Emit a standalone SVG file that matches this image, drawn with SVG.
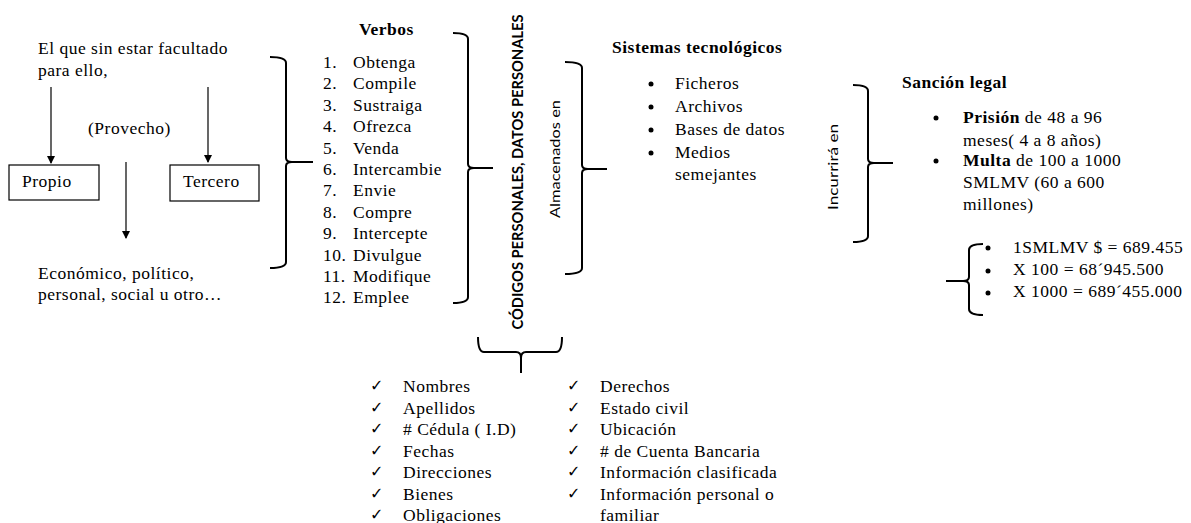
<svg xmlns="http://www.w3.org/2000/svg" width="1191" height="523" viewBox="0 0 1191 523">
<defs>
<marker id="ah" markerWidth="8" markerHeight="8" refX="7" refY="4" orient="auto" markerUnits="userSpaceOnUse"><path d="M0,0 L8,4 L0,8 Z" fill="#000"/></marker>
<style>
.t{font-family:"Liberation Serif","Times New Roman",serif;font-size:17.5px;letter-spacing:0.5px;fill:#000}
.b{font-weight:bold}
.s{font-family:"Lato","Liberation Sans",sans-serif;fill:#000}
.br{fill:none;stroke:#000;stroke-width:2}
.ar{stroke:#000;stroke-width:1.2;fill:none}
.bx{fill:#fff;stroke:#000;stroke-width:1.2}
.ck{font-family:"DejaVu Sans",sans-serif;font-size:16px;font-weight:bold;fill:#000}
</style>
</defs>
<rect width="1191" height="523" fill="#fff"/>
<g id="connectors">
<line class="ar" x1="51" y1="87" x2="51" y2="163" marker-end="url(#ah)"/>
<line class="ar" x1="208" y1="87" x2="208" y2="162" marker-end="url(#ah)"/>
<line class="ar" x1="126" y1="162" x2="126" y2="238" marker-end="url(#ah)"/>
<path class="br" d="M270,57 Q286,57 286,63 V158 Q286,162 292,162 H313 M292,162 Q286,162 286,166 V262 Q286,268 270,268"/>
<path class="br" d="M453,33 Q468,33 468,39 V164 Q468,168 474,168 H493 M474,168 Q468,168 468,172 V297 Q468,303 453,303"/>
<path class="br" d="M565,62 Q582,62 582,68 V165 Q582,169 588,169 H607 M588,169 Q582,169 582,173 V268 Q582,274 565,274"/>
<path class="br" d="M853,85 Q868,85 868,91 V159 Q868,163 874,163 H893 M874,163 Q868,163 868,167 V236 Q868,242 853,242"/>
<path class="br" d="M983,244 Q969,244 969,250 V277 Q969,281 963,281 H946 M963,281 Q969,281 969,285 V309 Q969,315 983,315"/>
<path class="br" d="M478,337 Q478,352 484,352 H516 Q521,352 521,358 V373 M521,358 Q521,352 526,352 H556 Q562,352 562,337"/>
</g>
<g id="intro">
<text class="t" x="38" y="54">El que sin estar facultado</text>
<text class="t" x="38" y="76">para ello,</text>
<text class="t" x="88" y="134">(Provecho)</text>
</g>
<g id="propio"><rect class="bx" x="9" y="165" width="90" height="35"/><text class="t" x="22" y="187">Propio</text></g>
<g id="tercero"><rect class="bx" x="170" y="165" width="89" height="36"/><text class="t" x="183" y="187">Tercero</text></g>
<g id="provecho-tipos">
<text class="t" x="38" y="279">Económico, político,</text>
<text class="t" x="38" y="300">personal, social u otro…</text>
</g>
<g id="verbos">
<text class="t b" x="359" y="35">Verbos</text>
<text class="t" x="323" y="68">1.</text><text class="t" x="353" y="68">Obtenga</text>
<text class="t" x="323" y="89.4">2.</text><text class="t" x="353" y="89.4">Compile</text>
<text class="t" x="323" y="110.8">3.</text><text class="t" x="353" y="110.8">Sustraiga</text>
<text class="t" x="323" y="132.2">4.</text><text class="t" x="353" y="132.2">Ofrezca</text>
<text class="t" x="323" y="153.6">5.</text><text class="t" x="353" y="153.6">Venda</text>
<text class="t" x="323" y="175">6.</text><text class="t" x="353" y="175">Intercambie</text>
<text class="t" x="323" y="196.4">7.</text><text class="t" x="353" y="196.4">Envie</text>
<text class="t" x="323" y="217.8">8.</text><text class="t" x="353" y="217.8">Compre</text>
<text class="t" x="323" y="239.2">9.</text><text class="t" x="353" y="239.2">Intercepte</text>
<text class="t" x="323" y="260.6">10.</text><text class="t" x="353" y="260.6">Divulgue</text>
<text class="t" x="323" y="282">11.</text><text class="t" x="353" y="282">Modifique</text>
<text class="t" x="323" y="303.4">12.</text><text class="t" x="353" y="303.4">Emplee</text>
</g>
<g id="codigos">
<text class="s b" font-size="14.5" transform="translate(523,172) rotate(-90)" text-anchor="middle" textLength="315" lengthAdjust="spacingAndGlyphs">CÓDIGOS PERSONALES, DATOS PERSONALES</text>
</g>
<g id="almacenados">
<text class="s" font-size="14" transform="translate(560,159) rotate(-90)" text-anchor="middle" textLength="118" lengthAdjust="spacingAndGlyphs">Almacenados en</text>
</g>
<g id="sistemas">
<text class="t b" x="612" y="53">Sistemas tecnológicos</text>
<circle cx="651" cy="84" r="2.5"/><text class="t" x="675" y="89">Ficheros</text>
<circle cx="651" cy="107" r="2.5"/><text class="t" x="675" y="112">Archivos</text>
<circle cx="651" cy="130" r="2.5"/><text class="t" x="675" y="135">Bases de datos</text>
<circle cx="651" cy="153" r="2.5"/><text class="t" x="675" y="158">Medios</text>
<text class="t" x="675" y="180">semejantes</text>
</g>
<g id="incurrira">
<text class="s" font-size="14" transform="translate(838,167) rotate(-90)" text-anchor="middle" textLength="86" lengthAdjust="spacingAndGlyphs">Incurrirá en</text>
</g>
<g id="sancion">
<text class="t b" x="902" y="88">Sanción legal</text>
<circle cx="936" cy="118" r="2.5"/><text class="t" x="963" y="123"><tspan class="b">Prisión</tspan> de 48 a 96</text>
<text class="t" x="963" y="146">meses( 4 a 8 años)</text>
<circle cx="936" cy="161" r="2.5"/><text class="t" x="963" y="166"><tspan class="b">Multa</tspan> de 100 a 1000</text>
<text class="t" x="963" y="188">SMLMV (60 a 600</text>
<text class="t" x="963" y="210">millones)</text>
</g>
<g id="calculo">
<circle cx="988" cy="248" r="2.5"/><text class="t" x="1013" y="253">1SMLMV $ = 689.455</text>
<circle cx="988" cy="271" r="2.5"/><text class="t" x="1013" y="275">X 100 = 68´945.500</text>
<circle cx="988" cy="293" r="2.5"/><text class="t" x="1013" y="297">X 1000 = 689´455.000</text>
</g>
<g id="datos">
<g class="ck">
<text x="370" y="391">✓</text><text x="370" y="412.5">✓</text><text x="370" y="434">✓</text><text x="370" y="455.5">✓</text><text x="370" y="477">✓</text><text x="370" y="498.5">✓</text><text x="370" y="520">✓</text>
<text x="567" y="391">✓</text><text x="567" y="412.5">✓</text><text x="567" y="434">✓</text><text x="567" y="455.5">✓</text><text x="567" y="477">✓</text><text x="567" y="498.5">✓</text>
</g>
<text class="t" x="403" y="392">Nombres</text>
<text class="t" x="403" y="413.5">Apellidos</text>
<text class="t" x="403" y="435"># Cédula ( I.D)</text>
<text class="t" x="403" y="456.5">Fechas</text>
<text class="t" x="403" y="478">Direcciones</text>
<text class="t" x="403" y="499.5">Bienes</text>
<text class="t" x="403" y="521">Obligaciones</text>
<text class="t" x="600" y="392">Derechos</text>
<text class="t" x="600" y="413.5">Estado civil</text>
<text class="t" x="600" y="435">Ubicación</text>
<text class="t" x="600" y="456.5"># de Cuenta Bancaria</text>
<text class="t" x="600" y="478">Información clasificada</text>
<text class="t" x="600" y="499.5">Información personal o</text>
<text class="t" x="600" y="521">familiar</text>
</g>
</svg>
